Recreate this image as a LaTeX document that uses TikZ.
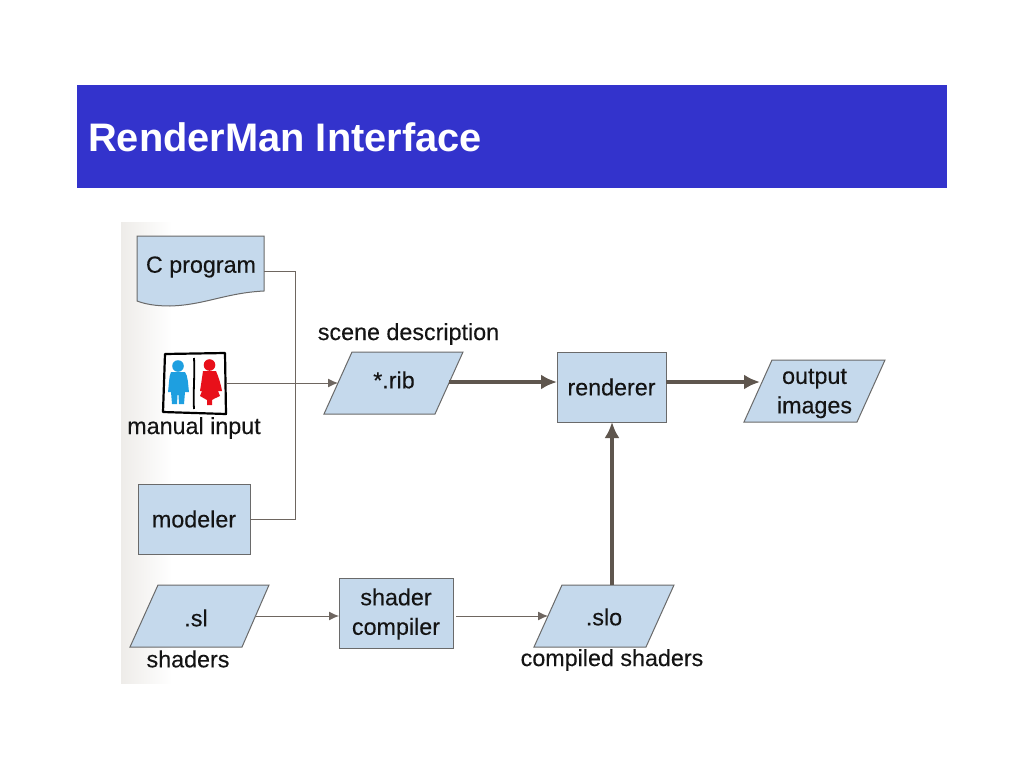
\documentclass[tikz,border=0pt]{standalone}
\usepackage{fontspec}
\setmainfont{Liberation Sans}
\newfontfamily\lblfont[FakeBold=0.25]{Liberation Sans}
\usetikzlibrary{arrows.meta,positioning}
\definecolor{titleblue}{HTML}{3333CC}
\definecolor{boxfill}{HTML}{C5D9EC}
\definecolor{boxline}{HTML}{6A6A6A}
\definecolor{thinline}{HTML}{6E6660}
\definecolor{thickline}{HTML}{5F564E}
\definecolor{ink}{HTML}{141414}
\definecolor{manblue}{HTML}{1E9FE0}
\definecolor{womanred}{HTML}{E8101A}
\definecolor{paleband}{HTML}{EEECE9}
\tikzset{
  lbl/.style={font=\lblfont\fontsize{23.3}{28}\selectfont,text=ink,inner sep=0pt,align=center},
  shapebox/.style={fill=boxfill,draw=boxline,line width=1pt},
  areabox/.style={inner sep=0pt,outer sep=0pt},
  thinarrow/.style={draw=thinline,line width=1pt,-{Latex[length=10pt,width=9pt]}},
  thinseg/.style={draw=thinline,line width=1pt},
  thickarrow/.style={draw=thickline,line width=4.2pt,-{Latex[length=16pt,width=15pt]}},
}
\begin{document}
\begin{tikzpicture}[x=1pt,y=-1pt]
\useasboundingbox (0,0) rectangle (1024,768);
\fill[white] (0,0) rectangle (1024,768);
% title band
\fill[titleblue] (77,85) rectangle (947,188);
\node[anchor=west,font=\bfseries\fontsize{39.8}{46}\selectfont,text=white,inner sep=0pt] (title) at (88,137) {RenderMan Interface};
% pale band behind the figure
\shade[left color=paleband,right color=white] (121,222) rectangle (172,683);
% shapes
\draw[shapebox] (137,236) -- (264,236) -- (264,291) .. controls (225,293) and (205,305) .. (170,306) .. controls (155,306) and (145,304) .. (137,301) -- cycle;
\draw[shapebox] (138,484) rectangle (250,554);
\draw[shapebox] (339,578) rectangle (453,648);
\draw[shapebox] (557,352) rectangle (666,422);
\draw[shapebox] (352,352) -- (463,352) -- (435,414) -- (324,414) -- cycle;
\draw[shapebox] (772,360) -- (885,360) -- (857,422) -- (744,422) -- cycle;
\draw[shapebox] (158,585) -- (269,585) -- (242,647) -- (130,647) -- cycle;
\draw[shapebox] (562,585) -- (674,585) -- (646,647) -- (534,647) -- cycle;
% manual input picture
\begin{scope}
\fill[white] (165,354) -- (225,353) -- (226,414) -- (163,412) -- cycle;
\draw[black,line width=2.2pt,line join=round] (165,354) -- (225,353) -- (226,414) -- (163,412) -- cycle;
\draw[black,line width=1.8pt] (194,358) .. controls (195,375) and (193,392) .. (194,409);
% blue figure
\fill[manblue] (178,366) circle (5.8);
\fill[manblue] (171,372) -- (185,372) .. controls (188,376) and (188,384) .. (189,392) -- (185,392) -- (184,404) -- (179,404) -- (178.5,395) -- (177.5,395) -- (177,404) -- (172,404) -- (171,392) -- (168,392) .. controls (169,384) and (169,376) .. (171,372) -- cycle;
% red figure
\fill[womanred] (209.5,365) circle (5.8);
\fill[womanred] (203,371) -- (216,371) .. controls (219,378) and (221,385) .. (222,391) -- (218,391) -- (220,396) .. controls (216,398) and (213,399) .. (212,400) -- (212,405) -- (207,405) -- (207,400) .. controls (205,399) and (202,397) .. (200,396) -- (202,391) -- (200,391) .. controls (201,385) and (202,378) .. (203,371) -- cycle;
\end{scope}
% named areas and texts
\node[areabox,minimum width=127pt,minimum height=70pt] (cprog) at (200.5,271) {};
\node[lbl] (cprogt) at (201,267) {C program};
\node[areabox,minimum width=62pt,minimum height=60pt] (manual) at (195,383) {};
\node[lbl] (manualt) at (194,428) {manual input};
\node[areabox,minimum width=112pt,minimum height=70pt] (modeler) at (194,519) {};
\node[lbl] (modelert) at (194,519) {modeler};
\node[lbl] (scene) at (408.5,334) {scene description};
\node[areabox,minimum width=111pt,minimum height=62pt] (rib) at (393.5,383) {};
\node[lbl] (ribt) at (394,380) {*.rib};
\node[areabox,minimum width=109pt,minimum height=70pt] (renderer) at (611.5,387) {};
\node[lbl] (renderert) at (611.5,387) {renderer};
\node[areabox,minimum width=113pt,minimum height=62pt] (output) at (814.5,391) {};
\node[lbl] (outputt) at (814.5,393.5) {output\\[1.5pt]images};
\node[areabox,minimum width=112pt,minimum height=62pt] (sl) at (200,616) {};
\node[lbl] (slt) at (196,618) {.sl};
\node[lbl] (shaders) at (188,659) {shaders};
\node[areabox,minimum width=114pt,minimum height=70pt] (compiler) at (396,613) {};
\node[lbl] (compilert) at (396,614) {shader\\[1.5pt]compiler};
\node[areabox,minimum width=112pt,minimum height=62pt] (slo) at (604,616) {};
\node[lbl] (slot) at (604,617) {.slo};
\node[lbl] (compiled) at (612,660) {compiled shaders};
% connectors
\coordinate (junction) at (295,383);
\coordinate (ribout) at (449,382);
\coordinate (renderin) at (renderer.west |- ribout);
\coordinate (renderout) at (renderer.east |- ribout);
\coordinate (outin) at (760,382);
\coordinate (sloout) at (612,585);
\coordinate (renderbottom) at (612,422);
\draw[thinseg] (cprog.east) -| (junction);
\draw[thinseg] (modeler.east) -| (junction);
\draw[thinarrow] (manual.east) -- (rib.west);
\draw[thinarrow] (sl.east) -- (sl.east -| compiler.west);
\draw[thinarrow] ([xshift=3pt]compiler.east |- slo.west) -- (slo.west);
\draw[thickarrow] (ribout) -- (renderin);
\draw[thickarrow] (renderout) -- (outin);
\draw[thickarrow] (sloout) -- (renderbottom);
\end{tikzpicture}
\end{document}
